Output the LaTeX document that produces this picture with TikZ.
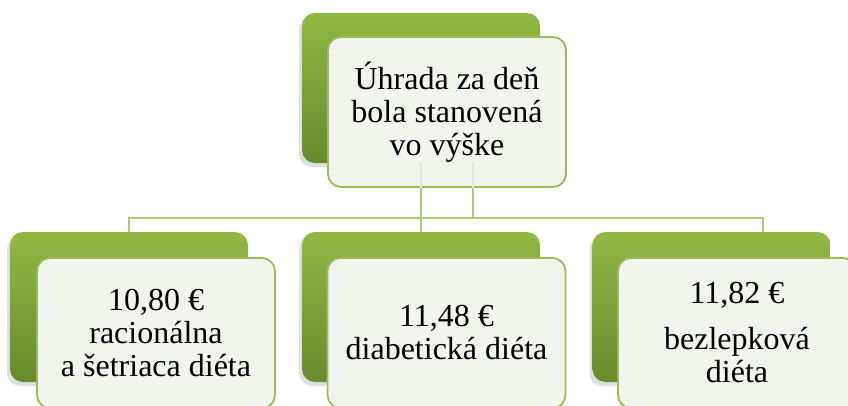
\documentclass[tikz,border=0pt]{standalone}
\usepackage{fontspec}
\setmainfont{Liberation Serif}
\usetikzlibrary{shadows,backgrounds}
\definecolor{gtop}{RGB}{146,184,68}
\definecolor{gbot}{RGB}{104,138,46}
\definecolor{gline}{RGB}{155,187,89}
\definecolor{connc}{RGB}{172,201,124}
\definecolor{wfill}{RGB}{242,244,238}
\definecolor{faint}{RGB}{226,233,212}
\begin{document}
\begin{tikzpicture}[x=1pt,y=-1pt,
  greenbox/.style={rectangle, rounded corners=13pt, minimum width=238pt, minimum height=150pt,
    top color=gtop, bottom color=gbot, draw=none,
    drop shadow={shadow xshift=-3pt, shadow yshift=-4pt, opacity=0.25}},
  whitebox/.style={rectangle, rounded corners=13pt, minimum width=238pt, minimum height=150pt,
    draw=gline, line width=1.8pt, fill=wfill,
    align=center, font=\fontsize{32}{33}\selectfont},
  connector/.style={draw=connc, line width=2.2pt},
  ghostline/.style={draw=faint, line width=2.2pt}]
\useasboundingbox (0,0) rectangle (848,405);
\node[greenbox] (tg) at (421,88) {};
\node[greenbox] (lg) at (129,307) {};
\node[greenbox] (mg) at (421,307) {};
\node[greenbox] (rg) at (711.5,307) {};
\coordinate (hl) at (129,218);
\coordinate (hr) at (763,218);
\coordinate (rt) at (763,232);
\coordinate (ja) at (473,160);
\coordinate (jb) at (473,218);
\begin{scope}[on background layer]
\draw[connector] (tg) -- (mg);
\draw[connector] (ja) -- (jb);
\draw[connector] (lg.north) -- (lg.north |- hl) -- (hr) -- (rt);
\end{scope}
\node[whitebox] (tw) at (447,112) {Úhrada za deň\\bola stanovená\\vo výške};
\node[whitebox] (lw) at (156,333) {10,80 €\\racionálna\\a šetriaca diéta};
\node[whitebox] (mw) at (446.5,333) {11,48 €\\diabetická diéta};
\node[whitebox] (rw) at (737,333) {11,82 €\\[13pt]bezlepková\\diéta};
\draw[ghostline] (tg.south) -- (tg.south |- tw.south);
\draw[ghostline] (ja |- tg.south) -- (ja |- tw.south);
\end{tikzpicture}
\end{document}
